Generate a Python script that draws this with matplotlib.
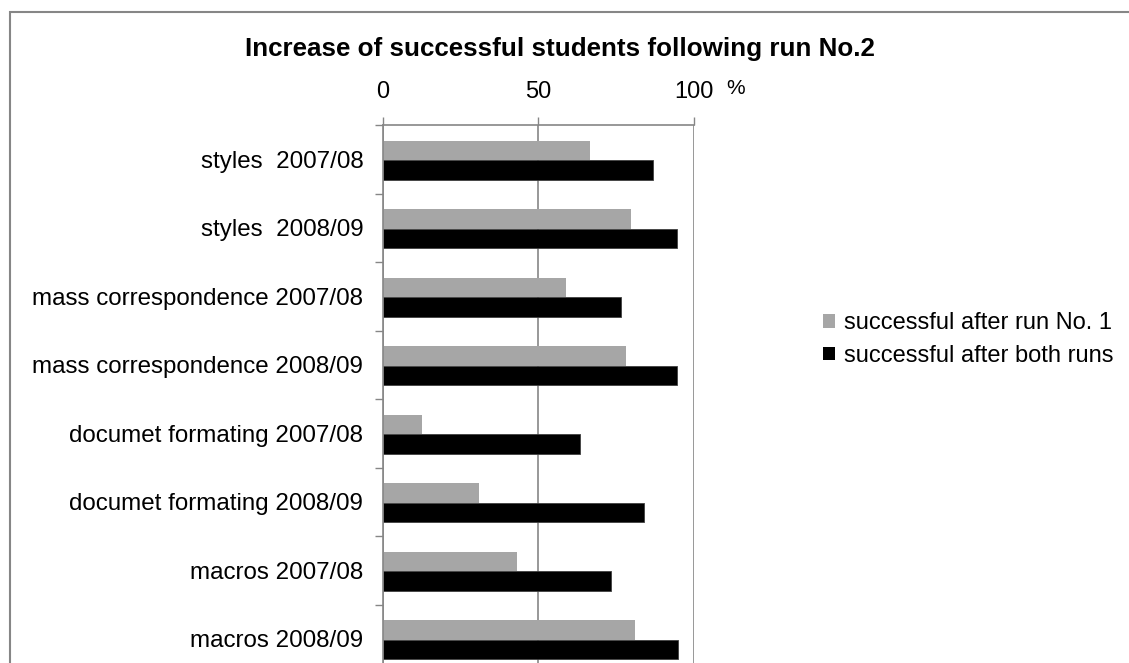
import matplotlib
matplotlib.use("Agg")
import matplotlib.pyplot as plt
from matplotlib.patches import Patch, Rectangle
import numpy as np

plt.rcParams['font.family'] = ['Liberation Sans', 'DejaVu Sans']

# data (percent of students)
categories = ["styles  2007/08", "styles  2008/09",
              "mass correspondence 2007/08", "mass correspondence 2008/09",
              "documet formating 2007/08", "documet formating 2008/09",
              "macros 2007/08", "macros 2008/09"]
after_run1 = [66.6, 79.8, 58.8, 78.1, 12.6, 31.0, 43.3, 81.0]
after_both = [86.8, 94.4, 76.4, 94.5, 63.5, 83.9, 73.3, 95.0]
series_names = ["successful after run No. 1", "successful after both runs"]
x_ticks = [0, 50, 100]

W, H = 1129, 663
fig = plt.figure(figsize=(W / 100, H / 100), dpi=100)

# outer chart frame (cut off at the right and bottom, like the screenshot)
fig.patches.append(Rectangle((10 / W, -0.1), 1.2, 1 - 12 / H + 0.1,
                             transform=fig.transFigure, fill=False,
                             edgecolor='#868686', linewidth=1.5))

# plot area runs past the bottom edge of the picture
ax_left, ax_right = 382.7, 694.0
ax_top, ax_bottom = 125.0, 125.0 + 8 * 68.5
ax = fig.add_axes([ax_left / W, 1 - ax_bottom / H,
                   (ax_right - ax_left) / W, (ax_bottom - ax_top) / H])

n = len(categories)
idx = np.arange(n)
bh = 0.285
ax.barh(idx + 0.515 - bh / 2, after_run1, height=bh, color='#a6a6a6')
ax.barh(idx + 0.515 + bh / 2, after_both, height=bh, color='black',
        edgecolor='#404040', linewidth=0.6)

ax.set_xlim(0, 100)
ax.set_ylim(n, 0)

# x axis on top
ax.xaxis.tick_top()
ax.set_xticks(x_ticks)
ax.set_xticklabels([str(v) for v in x_ticks])
ax.tick_params(axis='x', which='major', direction='out', length=5.5, width=1,
               color='#868686', labelsize=17, pad=10)

# category boundaries as ticks, names at the centres
ax.set_yticks(np.arange(n + 1))
ax.set_yticklabels([])
ax.set_yticks(idx + 0.5, minor=True)
ax.set_yticklabels(categories, minor=True)
ax.tick_params(axis='y', which='major', direction='out', length=5.5, width=1,
               color='#868686')
ax.tick_params(axis='y', which='minor', length=0, labelsize=17.4, pad=14)

ax.grid(axis='x', color='#868686', linewidth=1.2)
ax.set_axisbelow(True)
for s in ['right', 'bottom']:
    ax.spines[s].set_visible(False)
for s in ['left', 'top']:
    ax.spines[s].set_color('#868686')
    ax.spines[s].set_linewidth(1.2)

fig.text(736 / W, 1 - 88 / H, '%', fontsize=15, ha='center', va='center')
fig.text(560 / W, 1 - 49 / H,
         'Increase of successful students following run No.2',
         fontsize=18.7, fontweight='bold', ha='center', va='center')

handles = [Patch(facecolor='#a6a6a6'), Patch(facecolor='black')]
fig.legend(handles, series_names, loc='center left',
           bbox_to_anchor=(823 / W, 1 - 339.5 / H), frameon=False,
           fontsize=17, handlelength=0.5, handleheight=0.5,
           handletextpad=0.4, labelspacing=0.45, borderpad=0, borderaxespad=0)

fig.savefig('out.png', dpi=100)
